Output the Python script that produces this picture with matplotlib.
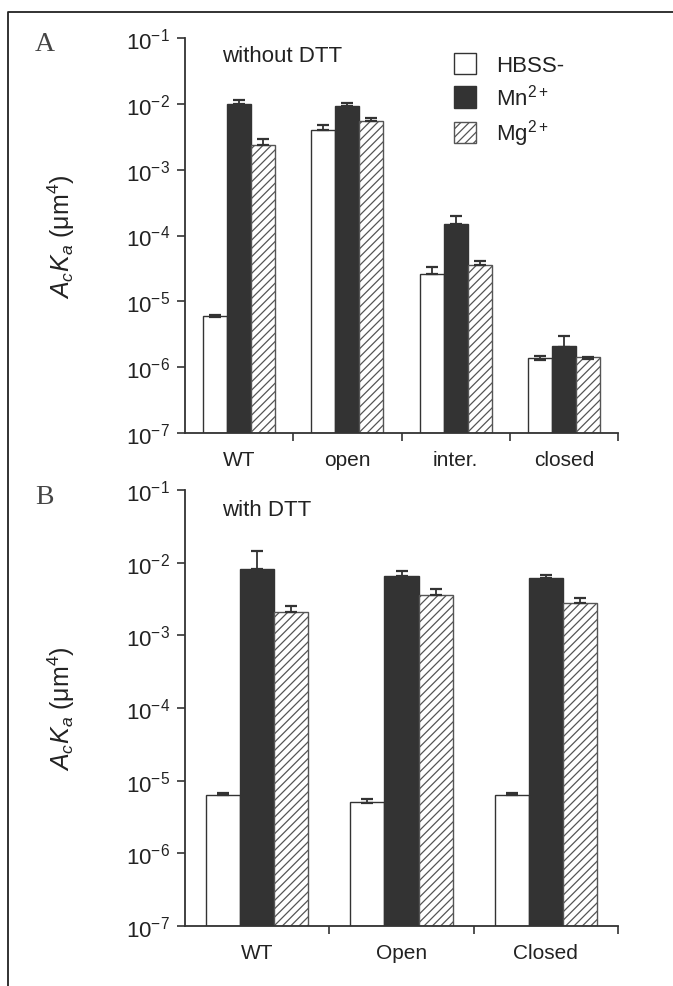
import matplotlib
matplotlib.use("Agg")
import matplotlib.pyplot as plt
from matplotlib.lines import Line2D
import numpy as np

plt.rcParams['font.family'] = ['Liberation Sans', 'DejaVu Sans']
plt.rcParams['mathtext.fontset'] = 'custom'
plt.rcParams['mathtext.rm'] = 'Liberation Sans'
plt.rcParams['mathtext.it'] = 'Liberation Sans:italic'
plt.rcParams['mathtext.bf'] = 'Liberation Sans:bold'
plt.rcParams['hatch.linewidth'] = 0.9

# ---------------- data ----------------
series_names = ['HBSS-', 'Mn$^{2+}$', 'Mg$^{2+}$']

cats_A = ['WT', 'open', 'inter.', 'closed']
hbss_A = [5.8e-6, 4.0e-3, 2.6e-5, 1.28e-6]
hbss_A_err = [0.3e-6, 0.8e-3, 0.7e-5, 0.18e-6]
mn_A = [1.0e-2, 9.3e-3, 1.5e-4, 2.0e-6]
mn_A_err = [0.15e-2, 1.0e-3, 0.5e-4, 1.0e-6]
mg_A = [2.4e-3, 5.5e-3, 3.6e-5, 1.33e-6]
mg_A_err = [0.55e-3, 0.6e-3, 0.5e-5, 0.12e-6]

cats_B = ['WT', 'Open', 'Closed']
hbss_B = [6.3e-6, 5.0e-6, 6.3e-6]
hbss_B_err = [0.5e-6, 0.55e-6, 0.4e-6]
mn_B = [8.3e-3, 6.5e-3, 6.1e-3]
mn_B_err = [6.4e-3, 1.1e-3, 0.6e-3]
mg_B = [2.1e-3, 3.6e-3, 2.8e-3]
mg_B_err = [0.4e-3, 0.8e-3, 0.5e-3]

ytick_vals = [1e-7, 1e-6, 1e-5, 1e-4, 1e-3, 1e-2, 1e-1]
ytick_labels = ['10$^{-7}$', '10$^{-6}$', '10$^{-5}$', '10$^{-4}$',
                '10$^{-3}$', '10$^{-2}$', '10$^{-1}$']

# ---------------- style ----------------
DARK = '#333333'
W, H = 673, 987
fig = plt.figure(figsize=(W / 100, H / 100), dpi=100)

def px_axes(x0, x1, ytop, ybot):
    return fig.add_axes([x0 / W, 1 - ybot / H, (x1 - x0) / W, (ybot - ytop) / H])

axA = px_axes(185, 618, 39, 434)
axB = px_axes(185, 618, 491, 927)

def draw_panel(ax, cats, hb, hbe, mn, mne, mg, mge, width, title, letter, legend=False):
    n = len(cats)
    x = np.arange(n)
    styles = [
        dict(color='white', edgecolor=DARK, linewidth=1.0),
        dict(color=DARK, edgecolor=DARK, linewidth=1.0),
        dict(color='white', edgecolor='#555555', hatch='////', linewidth=1.0),
    ]
    vals = [hb, mn, mg]
    errs = [hbe, mne, mge]
    handles = []
    for i in range(3):
        xs = x + (i - 1) * width
        bars = ax.bar(xs, vals[i], width=width, bottom=1e-7, **styles[i], zorder=2)
        handles.append(bars)
        ax.errorbar(xs, vals[i], yerr=[np.zeros(n), errs[i]], fmt='none',
                    ecolor=DARK, elinewidth=1.3, capsize=4.5, capthick=1.6, zorder=3)
    ax.set_yscale('log')
    ax.set_ylim(1e-7, 1e-1)
    ax.set_xlim(-0.5, n - 0.5)
    ax.set_yticks(ytick_vals)
    ax.set_yticklabels(ytick_labels)
    ax.yaxis.set_minor_locator(matplotlib.ticker.NullLocator())
    ax.set_xticks(x)
    ax.set_xticklabels(cats)
    ax.set_xticks(np.arange(n) + 0.5, minor=True)
    ax.tick_params(axis='x', which='major', length=0, pad=12, labelsize=15, colors='#222222')
    ax.tick_params(axis='x', which='minor', length=6, width=1.2, direction='out', color=DARK)
    ax.tick_params(axis='y', which='major', length=6, width=1.2, direction='out',
                   pad=5, labelsize=16, color=DARK, labelcolor='#222222')
    for s in ['top', 'right']:
        ax.spines[s].set_visible(False)
    for s in ['left', 'bottom']:
        ax.spines[s].set_color(DARK)
        ax.spines[s].set_linewidth(1.3)
    ax.set_ylabel('$A_cK_a$ (μm$^4$)', fontsize=18, color='#222222')
    ax.yaxis.set_label_coords(-0.25, 0.5)
    ax.text(0.085, 0.955, title, transform=ax.transAxes, fontsize=16,
            ha='left', va='center', color='#222222')
    ax.text(-0.325, 0.985, letter, transform=ax.transAxes, fontsize=20,
            family='Liberation Serif', ha='center', va='center', color='#444444')
    if legend:
        ax.legend(handles, series_names, loc='upper left', frameon=False,
                  bbox_to_anchor=(0.6, 0.985), fontsize=16, handlelength=1.0,
                  handleheight=1.1, handletextpad=0.9, labelspacing=0.35,
                  borderaxespad=0, labelcolor='#222222')

draw_panel(axA, cats_A, hbss_A, hbss_A_err, mn_A, mn_A_err, mg_A, mg_A_err,
           0.222, 'without DTT', 'A', legend=True)
draw_panel(axB, cats_B, hbss_B, hbss_B_err, mn_B, mn_B_err, mg_B, mg_B_err,
           0.236, 'with DTT', 'B')

# outer frame (left and top edges)
fig.add_artist(Line2D([8 / W, 8 / W, 1.0], [0.0, 1 - 13 / H, 1 - 13 / H],
                      transform=fig.transFigure, color='#222222', linewidth=1.3))

fig.savefig('out.png', dpi=100)
